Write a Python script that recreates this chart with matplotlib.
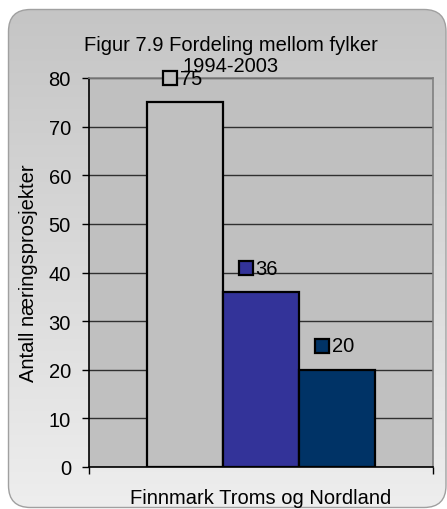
import matplotlib
matplotlib.use("Agg")
import matplotlib.pyplot as plt
import numpy as np
from matplotlib.patches import FancyBboxPatch

plt.rcParams['font.family'] = ['Liberation Sans', 'DejaVu Sans']

# Data
series = ["Finnmark", "Troms", "Nordland"]
values = [75, 36, 20]
colors = ["#c0c0c0", "#333399", "#003366"]
yticks = [0, 10, 20, 30, 40, 50, 60, 70, 80]
title = "Figur 7.9 Fordeling mellom fylker\n1994-2003"
ylabel = "Antall næringsprosjekter"
category = "Finnmark Troms og Nordland"

FS = 14.5
W, H = 447, 510
fig = plt.figure(figsize=(W / 100, H / 100), dpi=100)
fig.patch.set_facecolor("white")

# Rounded chart-area background with vertical gradient
bg = fig.add_axes([0, 0, 1, 1])
bg.set_xlim(0, W)
bg.set_ylim(H, 0)
bg.axis("off")
grad = np.linspace(0, 1, 256).reshape(-1, 1)
cmap = matplotlib.colors.LinearSegmentedColormap.from_list("g", ["#c4c4c4", "#eeeeee"])
im = bg.imshow(grad, extent=[0, W, H, 0], aspect="auto", cmap=cmap, zorder=0)
box = FancyBboxPatch((8.5, 10.5), W - 9.5, H - 12, boxstyle="round,pad=0,rounding_size=22",
                     facecolor="none", edgecolor="#a0a0a0", linewidth=1.0, zorder=1)
bg.add_patch(box)
im.set_clip_path(box)

# Plot area
x0, x1, ytop, ybot = 89, 433, 79, 468
ax = fig.add_axes([x0 / W, (H - ybot) / H, (x1 - x0) / W, (ybot - ytop) / H])
ax.set_facecolor("#c0c0c0")

offsets = [-1, 0, 1]
for off, v, c in zip(offsets, values, colors):
    ax.bar(off, v, width=1.0, color=c, edgecolor="black", linewidth=1.6, zorder=3)
    ax.plot(off - 0.2, v + 4.9, marker="s", markersize=9.5, markerfacecolor=c,
            markeredgecolor="black", markeredgewidth=1.6, zorder=4, clip_on=False)
    ax.annotate(str(v), xy=(off - 0.2, v + 4.9), xytext=(7, 0), textcoords="offset points",
                ha="left", va="center", fontsize=FS, zorder=5, annotation_clip=False)

gap = 58 / 76
ax.set_xlim(-1.5 - gap, 1.5 + gap)
ax.set_ylim(0, 80)
ax.set_yticks(yticks)
ax.tick_params(axis="y", direction="out", length=5, width=1, labelsize=FS, pad=8)
ax.yaxis.grid(True, color="#303030", linewidth=1.0, zorder=1)
ax.set_axisbelow(True)

ax.set_xticks([0])
ax.set_xticklabels([category])
ax.set_xticks([-1.5 - gap, 1.5 + gap], minor=True)
ax.tick_params(axis="x", which="major", length=0, labelsize=FS, pad=15)
ax.tick_params(axis="x", which="minor", direction="out", length=5, width=1)

for s in ["top", "right"]:
    ax.spines[s].set_color("#808080")
    ax.spines[s].set_linewidth(1.2)
for s in ["left", "bottom"]:
    ax.spines[s].set_color("black")
    ax.spines[s].set_linewidth(1.2)

ax.set_ylabel(ylabel, fontsize=FS)
ax.yaxis.set_label_coords(-(x0 - 38) / (x1 - x0), 0.5)
fig.text(231 / W, 1 - 56 / H, title, ha="center", va="center", fontsize=FS,
         linespacing=1.1)

fig.savefig("out.png", dpi=100)
